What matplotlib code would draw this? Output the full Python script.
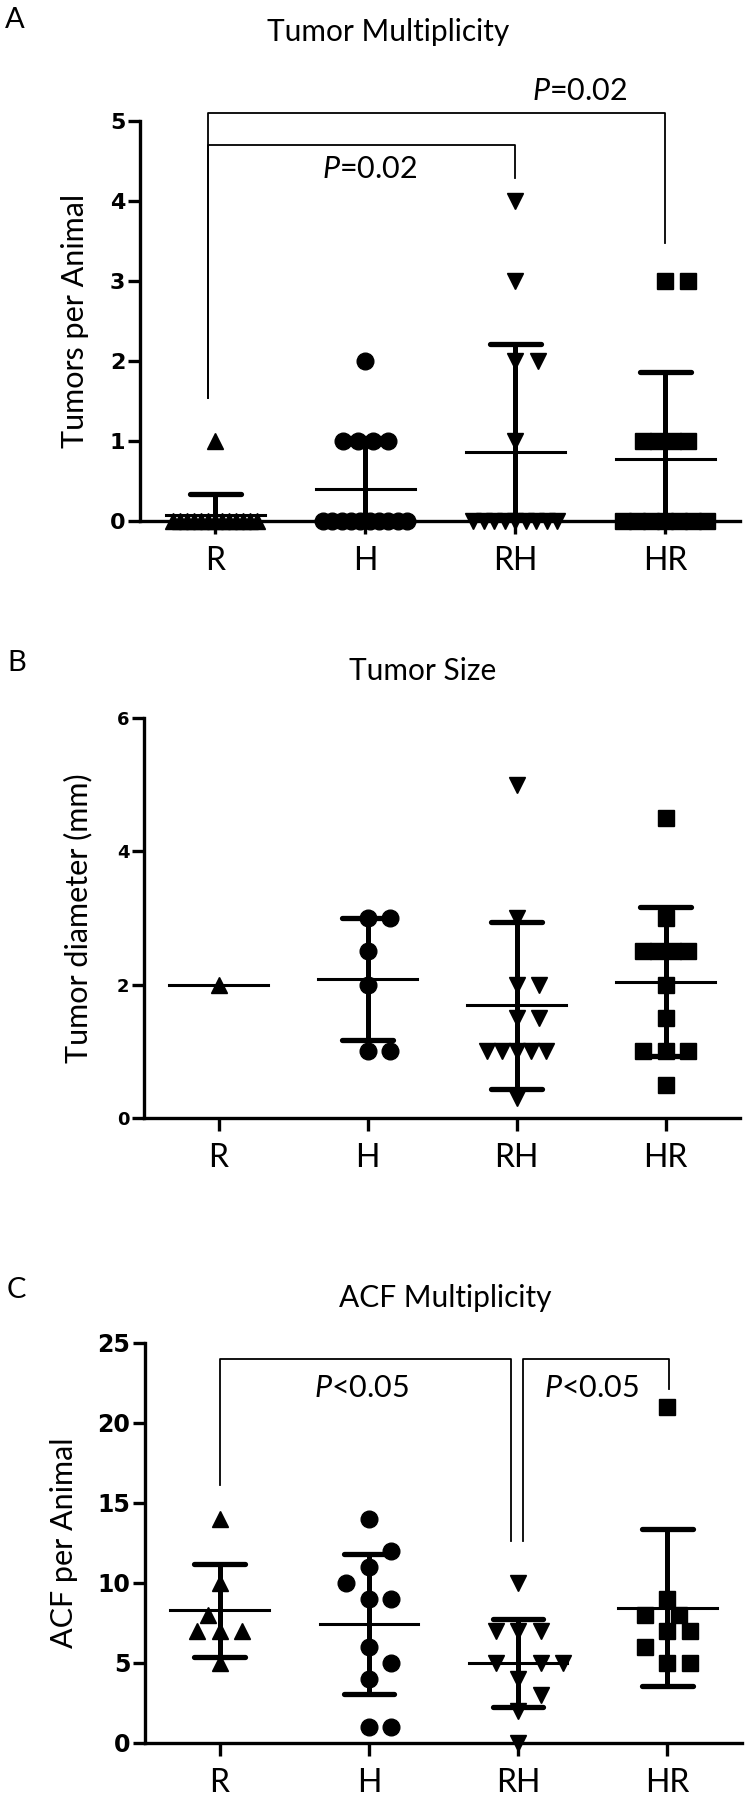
import matplotlib.pyplot as plt
import numpy as np

plt.rcParams['font.family'] = ['Lato', 'DejaVu Sans']
plt.rcParams['mathtext.fontset'] = 'custom'
plt.rcParams['mathtext.it'] = 'Lato:italic'
plt.rcParams['mathtext.rm'] = 'Lato'

groups = ["R", "H", "RH", "HR"]
markers = ["^", "o", "v", "s"]

# A - tumors per animal
mult_R = [1, 0, 0, 0, 0, 0, 0, 0, 0, 0, 0, 0, 0, 0]
mult_H = [2, 1, 1, 1, 1, 0, 0, 0, 0, 0, 0, 0, 0, 0, 0]
mult_RH = [4, 3, 2, 2, 1, 0, 0, 0, 0, 0, 0, 0, 0, 0]
mult_HR = [3, 3, 1, 1, 1, 1, 0, 0, 0, 0, 0, 0, 0]

# B - tumor diameter (mm)
size_R = [2.0]
size_H = [3.0, 3.0, 2.5, 2.0, 1.0, 1.0]
size_RH = [5.0, 3.0, 2.0, 2.0, 1.5, 1.5, 1.0, 1.0, 1.0, 1.0, 1.0, 0.3]
size_HR = [4.5, 3.0, 2.5, 2.5, 2.5, 2.5, 2.0, 1.5, 1.0, 1.0, 1.0, 0.5]

# C - ACF per animal
acf_R = [14, 10, 8, 7, 7, 7, 5]
acf_H = [14, 12, 11, 10, 9, 9, 6, 5, 4, 1, 1]
acf_RH = [10, 7, 7, 7, 5, 5, 5, 4, 3, 2, 0]
acf_HR = [21, 9, 8, 8, 7, 7, 6, 5, 5]

W, H = 754, 1800
AX_H = 400          # axes height in px
X_STEP = 150        # px between groups


def offsets(vals, ymax):
    """column scatter: pile equal values, nudge near neighbours sideways"""
    vals = np.asarray(vals, float)
    ppu = AX_H / ymax
    s = 0.15
    out = np.zeros(len(vals))
    placed = []
    for v in np.unique(vals):
        idx = np.where(vals == v)[0]
        k = len(idx)
        if k >= 4:
            w = min(0.28, 0.05 * (k - 1))
            offs = np.linspace(-w, w, k)
            out[idx] = offs
            placed += [(o, v) for o in offs]
            continue
        for j in idx:
            for c in (0, s, -s, -s / 2, s / 2, 2 * s, -2 * s):
                ok = all(np.hypot((c - xo) * X_STEP, (v - yo) * ppu) >= 17
                         for xo, yo in placed)
                if ok:
                    break
            out[j] = c
            placed.append((c, v))
    return out


def draw_group(ax, i, vals, marker, ms, ymax):
    vals = np.asarray(vals, float)
    m = vals.mean()
    if len(vals) > 1:
        sd = vals.std(ddof=1)
        ax.plot([i, i], [max(m - sd, 0), m + sd], color="k", lw=3.6,
                solid_capstyle="butt", zorder=2)
        for y in (m - sd, m + sd):
            if y >= 0:
                ax.plot([i - 0.17, i + 0.17], [y, y], color="k", lw=3.8,
                        solid_capstyle="round", zorder=2)
    ax.plot([i - 0.33, i + 0.33], [m, m], color="k", lw=2.2, zorder=2)
    ax.plot(i + offsets(vals, ymax), vals, linestyle="none", marker=marker,
            ms=ms, color="k", clip_on=False, zorder=3)


def style_axes(ax, ymax, yticks, ylabel, tick_size, label_x):
    ax.set_xlim(-0.5, 3.5)
    ax.set_ylim(0, ymax)
    for s in ("top", "right"):
        ax.spines[s].set_visible(False)
    for s in ("left", "bottom"):
        ax.spines[s].set_linewidth(2.4)
    ax.set_xticks(range(len(groups)), groups, fontsize=23)
    ax.set_yticks(yticks)
    ax.set_yticklabels([str(t) for t in yticks], fontsize=tick_size,
                       fontweight="bold", family="DejaVu Sans")
    ax.tick_params(axis="y", length=9, width=2.4, pad=1.5)
    ax.tick_params(axis="x", length=9, width=2.4, pad=9)
    ax.set_ylabel(ylabel, fontsize=22)
    ax.yaxis.set_label_coords(label_x, 0.5)


def bracket(ax, x0, x1, y0, y1, top):
    ax.plot([x0, x0, x1, x1], [y0, top, top, y1], color="k", lw=1.3,
            clip_on=False)


fig = plt.figure(figsize=(W / 100, H / 100), dpi=100)
ax_a = fig.add_axes([140 / W, 1 - 521 / H, 600 / W, AX_H / H])
ax_b = fig.add_axes([144 / W, 1 - 1118 / H, 596 / W, AX_H / H])
ax_c = fig.add_axes([145 / W, 1 - 1743 / H, 597 / W, AX_H / H])

panels = [
    (ax_a, [mult_R, mult_H, mult_RH, mult_HR], 5),
    (ax_b, [size_R, size_H, size_RH, size_HR], 6),
    (ax_c, [acf_R, acf_H, acf_RH, acf_HR], 25),
]
for ax, data, ymax in panels:
    for i, vals in enumerate(data):
        ms = 11.5 if markers[i] == "s" else 12
        draw_group(ax, i, vals, markers[i], ms, ymax)

style_axes(ax_a, 5, [0, 1, 2, 3, 4, 5], "Tumors per Animal", 16, -0.085)
style_axes(ax_b, 6, [0, 2, 4, 6], "Tumor diameter (mm)", 13, -0.087)
style_axes(ax_c, 25, [0, 5, 10, 15, 20, 25], "ACF per Animal", 17, -0.113)

# significance brackets
bracket(ax_a, -0.045, 3, 1.54, 3.47, 5.10)
bracket(ax_a, -0.045, 2, 1.54, 4.29, 4.70)
ax_a.text(2.43, 5.37, "$P$=0.02", ha="center", va="center", fontsize=22)
ax_a.text(1.03, 4.40, "$P$=0.02", ha="center", va="center", fontsize=22)

bracket(ax_c, 0, 1.955, 16.1, 12.6, 24.0)
bracket(ax_c, 2.03, 3.01, 12.6, 22.1, 24.0)
ax_c.text(0.95, 22.2, "$P$<0.05", ha="center", va="center", fontsize=22)
ax_c.text(2.49, 22.2, "$P$<0.05", ha="center", va="center", fontsize=22)

# titles and panel letters
fig.text(388 / W, 1 - 32 / H, "Tumor Multiplicity", ha="center", va="center", fontsize=21.5)
fig.text(423 / W, 1 - 671 / H, "Tumor Size", ha="center", va="center", fontsize=21.5)
fig.text(445 / W, 1 - 1298 / H, "ACF Multiplicity", ha="center", va="center", fontsize=21.5)
fig.text(5 / W, 1 - 20 / H, "A", ha="left", va="center", fontsize=21)
fig.text(7 / W, 1 - 663 / H, "B", ha="left", va="center", fontsize=21)
fig.text(7 / W, 1 - 1290 / H, "C", ha="left", va="center", fontsize=21)

fig.savefig("out.png", dpi=100)
